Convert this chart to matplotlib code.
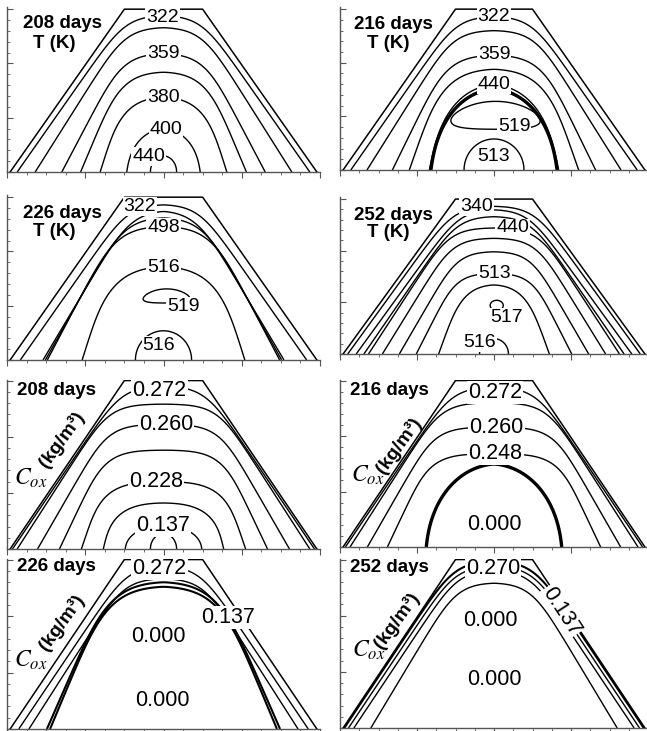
import numpy as np
import matplotlib
matplotlib.use("Agg")
import matplotlib.pyplot as plt
from matplotlib.ticker import MultipleLocator

plt.rcParams['font.family'] = ['Liberation Sans', 'DejaVu Sans']
plt.rcParams['mathtext.fontset'] = 'stix'

# ---------------- pile geometry (m) ----------------
pile_x = [0.4, 15.0, 25.0, 39.6]
pile_y = [0.0, 15.0, 15.0, 0.0]
CENTER = 20.0
SLOPE = (19.6 - 5.0) / 15.0

days = ["208 days", "216 days", "226 days", "252 days"]

# ---------------- temperature T (K) ----------------
# each isoline: crest height (m), half-width at the base (m), roundness (0 = trapezoid, 1 = ellipse)
t208_top = [14.4, 13.3, 10.9, 9.2, 6.9, 4.0, 1.5]
t208_half = [18.7, 16.4, 13.0, 10.6, 8.1, 4.7, 1.7]
t208_round = [0.0, 0.1, 0.25, 0.4, 0.55, 0.8, 1.0]
t208_text = ["322", "359", "380", "400", "440"]
t208_tx = [19.9, 20.0, 20.0, 20.3, 18.1]
t208_ty = [14.2, 10.9, 6.9, 3.9, 1.4]

t216_top = [14.3, 13.0, 10.7, 9.4, 8.0, 7.6, 2.9]
t216_half = [18.6, 16.5, 13.2, 11.0, 8.4, 8.2, 3.9]
t216_round = [0.0, 0.1, 0.3, 0.5, 0.72, 0.8, 1.0]
t216_loop = [20.2, 5.1, 5.8, 1.3, -0.015]      # closed 519 K isoline: cx, cy, a, c, bend
t216_text = ["322", "359", "440", "519", "513"]
t216_tx = [20.0, 20.0, 20.0, 22.6, 19.9]
t216_ty = [14.3, 10.8, 8.0, 4.05, 1.3]

t226_top = [14.3, 13.7, 13.1, 12.3, 8.6, 2.7]
t226_half = [18.3, 15.4, 15.1, 14.85, 10.4, 3.6]
t226_round = [0.0, 0.15, 0.2, 0.25, 0.55, 1.0]
t226_loop = [20.4, 5.9, 3.0, 0.65, -0.03]
t226_text = ["322", "498", "516", "519", "516"]
t226_tx = [17.0, 20.0, 20.0, 22.5, 19.4]
t226_ty = [14.1, 12.2, 8.5, 4.9, 1.3]

t252_top = [14.3, 13.96, 13.3, 12.2, 11.2, 9.9, 7.8, 6.7, 1.5]
t252_half = [19.0, 17.9, 16.9, 16.3, 14.5, 12.3, 10.1, 7.2, 1.9]
t252_round = [0.0, 0.0, 0.05, 0.1, 0.15, 0.2, 0.3, 0.5, 1.0]
t252_loop = [20.35, 4.7, 0.85, 0.5, 0.0]
t252_text = ["340", "440", "513", "517", "516"]
t252_tx = [17.75, 22.4, 20.1, 21.6, 18.1]
t252_ty = [14.3, 12.2, 7.8, 3.5, 1.1]

# ---------------- oxygen concentration Cox (kg/m3) ----------------
c208_top = [14.5, 12.9, 11.1, 8.8, 6.0, 4.1, 2.1, 1.4]
c208_half = [19.3, 18.7, 16.1, 13.3, 10.5, 7.7, 4.9, 1.7]
c208_round = [0.0, 0.05, 0.15, 0.3, 0.5, 0.65, 0.85, 1.0]
c208_text = ["0.272", "0.260", "0.228", "0.137"]
c208_tx = [19.5, 20.3, 19.0, 19.9]
c208_ty = [14.1, 11.1, 6.0, 2.1]

c216_top = [14.4, 13.0, 10.8, 8.4, 7.5]
c216_half = [19.3, 18.7, 16.45, 13.85, 8.8]
c216_round = [0.0, 0.05, 0.15, 0.3, 0.85]
c216_text = ["0.272", "0.260", "0.248", "0.000"]
c216_tx = [20.1, 20.3, 20.2, 20.1]
c216_ty = [13.9, 10.8, 8.4, 2.0]

c226_top = [14.4, 13.3, 13.0, 12.6]
c226_half = [18.5, 17.2, 14.9, 14.5]
c226_round = [0.0, 0.05, 0.35, 0.38]
c226_text = ["0.272", "0.137", "0.000", "0.000"]
c226_tx = [19.5, 28.2, 19.4, 19.8]
c226_ty = [14.25, 9.9, 8.2, 2.5]

c252_top = [14.85, 14.4, 14.0, 12.9]
c252_half = [19.45, 18.9, 18.2, 16.0]
c252_round = [0.0, 0.0, 0.0, 0.1]
c252_text = ["0.270", "0.137", "0.000", "0.000"]
c252_tx = [19.9, 28.7, 19.5, 20.1]
c252_ty = [14.2, 10.4, 9.6, 4.3]

W, H = 647, 731
fig = plt.figure(figsize=(W / 100, H / 100), dpi=100)

panels = [
    dict(rect=(7, 7, 320, 172), ymax=15.2, kind='T', title=days[0], top=t208_top, half=t208_half,
         rnd=t208_round, loop=None, text=t208_text, tx=t208_tx, ty=t208_ty, heavy={},
         tpos=(0.176, 0.897), upos=(0.150, 0.779)),
    dict(rect=(340, 7, 648, 170), ymax=15.2, kind='T', title=days[1], top=t216_top, half=t216_half,
         rnd=t216_round, loop=t216_loop, text=t216_text, tx=t216_tx, ty=t216_ty, heavy={5: 2.4},
         tpos=(0.175, 0.89), upos=(0.156, 0.776)),
    dict(rect=(7, 195, 320, 360), ymax=15.2, kind='T', title=days[2], top=t226_top, half=t226_half,
         rnd=t226_round, loop=t226_loop, text=t226_text, tx=t226_tx, ty=t226_ty, heavy={},
         tpos=(0.176, 0.888), upos=(0.150, 0.779)),
    dict(rect=(340, 197, 648, 354), ymax=15.2, kind='T', title=days[3], top=t252_top, half=t252_half,
         rnd=t252_round, loop=t252_loop, text=t252_text, tx=t252_tx, ty=t252_ty, heavy={},
         tpos=(0.175, 0.885), upos=(0.156, 0.776)),
    dict(rect=(7, 380, 320, 549), ymax=15.05, kind='C', title=days[0], top=c208_top, half=c208_half,
         rnd=c208_round, loop=None, text=c208_text, tx=c208_tx, ty=c208_ty, heavy={},
         tpos=(0.157, 0.94), cpos=(0.077, 0.42), kpos=(0.175, 0.645), rot=[0, 0, 0, 0]),
    dict(rect=(340, 380, 648, 547), ymax=15.05, kind='C', title=days[1], top=c216_top, half=c216_half,
         rnd=c216_round, loop=None, text=c216_text, tx=c216_tx, ty=c216_ty, heavy={4: 2.4},
         tpos=(0.162, 0.94), cpos=(0.09, 0.43), kpos=(0.19, 0.605), rot=[0, 0, 0, 0]),
    dict(rect=(7, 559, 320, 729), ymax=15.05, kind='C', title=days[2], top=c226_top, half=c226_half,
         rnd=c226_round, loop=None, text=c226_text, tx=c226_tx, ty=c226_ty, heavy={2: 1.5, 3: 1.5},
         tpos=(0.157, 0.953), cpos=(0.077, 0.405), kpos=(0.175, 0.625), rot=[0, 0, 0, 0]),
    dict(rect=(340, 559, 648, 728), ymax=15.05, kind='C', title=days[3], top=c252_top, half=c252_half,
         rnd=c252_round, loop=None, text=c252_text, tx=c252_tx, ty=c252_ty, heavy={0: 1.5},
         tpos=(0.159, 0.947), cpos=(0.092, 0.46), kpos=(0.185, 0.635), rot=[0, -57, 0, 0]),
]


def arch_field(X, Y, top, half, rnd):
    s = SLOPE * (1 - rnd)
    p = 2 + 10 * (1 - rnd) ** 2
    c = s * top / half
    hp = top / (1 - c ** p) ** (1 / p)
    u = np.sqrt((X - CENTER) ** 2 + 0.09) + s * Y
    return ((Y / hp) ** p + (u / half) ** p) ** (1 / p)


def loop_field(X, Y, cx, cy, a, c, bend):
    return ((X - cx) / a) ** 2 + ((Y - cy - bend * (X - cx) ** 2) / c) ** 2


for P in panels:
    l, t, r, b = P['rect']
    ax = fig.add_axes([l / W, 1 - b / H, (r - l) / W, (b - t) / H])
    ax.set_xlim(0, 40)
    ax.set_ylim(0, P['ymax'])
    xs = np.linspace(0, 40, 801)
    ys = np.linspace(0, P['ymax'], 401)
    X, Y = np.meshgrid(xs, ys)

    ax.plot(pile_x, pile_y, color='k', lw=1.1, zorder=3)
    for i, (tp, hf, rd) in enumerate(zip(P['top'], P['half'], P['rnd'])):
        F = arch_field(X, Y, tp, hf, rd)
        lw = P['heavy'].get(i, 1.0)
        ax.contour(X, Y, F, levels=[1.0], colors='k', linewidths=lw, zorder=2)
    if P['loop'] is not None:
        F = loop_field(X, Y, *P['loop'])
        ax.contour(X, Y, F, levels=[1.0], colors='k', linewidths=1.0, zorder=2)

    fs = 14 if P['kind'] == 'T' else 15.5
    rots = P.get('rot', [0] * len(P['text']))
    for s_, x_, y_, ro in zip(P['text'], P['tx'], P['ty'], rots):
        ax.text(x_, y_, s_, ha='center', va='center', fontsize=fs, rotation=ro,
                rotation_mode='anchor', zorder=5,
                bbox=dict(boxstyle='square,pad=0.05', fc='white', ec='none'))

    ax.text(*P['tpos'], P['title'], transform=ax.transAxes, ha='center', va='center',
            fontsize=13.5, fontweight='bold', zorder=6)
    if P['kind'] == 'T':
        ax.text(*P['upos'], 'T (K)', transform=ax.transAxes, ha='center', va='center',
                fontsize=13.5, fontweight='bold', zorder=6)
    else:
        ax.text(*P['cpos'], r'$C_{ox}$', transform=ax.transAxes, ha='center', va='center',
                fontsize=17, zorder=6)
        ax.text(*P['kpos'], '(kg/m³)', transform=ax.transAxes, ha='center', va='center',
                fontsize=14, fontweight='bold', rotation=54, zorder=6)

    for side in ('top', 'right'):
        ax.spines[side].set_visible(False)
    for side in ('left', 'bottom'):
        ax.spines[side].set_color('#555555')
        ax.spines[side].set_linewidth(1.0)
    ax.xaxis.set_major_locator(MultipleLocator(10))
    ax.xaxis.set_minor_locator(MultipleLocator(2.5))
    ax.yaxis.set_major_locator(MultipleLocator(5))
    ax.yaxis.set_minor_locator(MultipleLocator(1))
    ax.tick_params(axis='x', which='major', direction='out', length=4, color='#555555',
                   labelbottom=False)
    ax.tick_params(axis='x', which='minor', direction='out', length=2.5, color='#555555')
    ax.tick_params(axis='y', which='major', direction='in', length=4, color='#555555',
                   labelleft=False)
    ax.tick_params(axis='y', which='minor', direction='in', length=2.5, color='#555555')
    ax.set_facecolor('none')

fig.savefig('out.png', dpi=100)
